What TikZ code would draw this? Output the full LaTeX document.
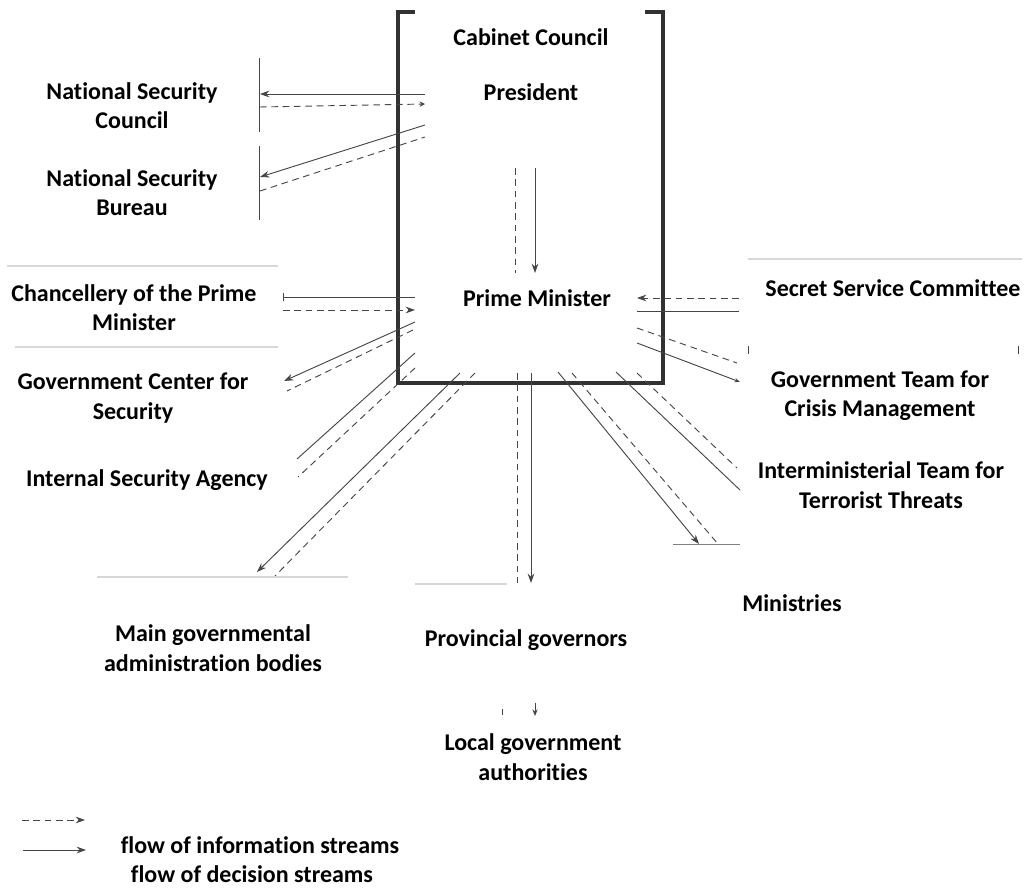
\documentclass[tikz,border=0pt]{standalone}
\usepackage{fontspec}
\setmainfont[Ligatures=NoCommon]{Carlito}
\usetikzlibrary{arrows.meta}
\definecolor{inkgray}{RGB}{70,70,70}
\definecolor{boxgray}{RGB}{50,50,50}
\definecolor{faintgray}{RGB}{215,215,215}

\begin{document}
\begin{tikzpicture}[x=0.75pt,y=-0.75pt,
  lbl/.style={align=center,font=\fontsize{18}{22}\selectfont\bfseries,inner sep=0pt},
  dec/.style={draw=inkgray,line width=.7pt},
  inf/.style={draw=inkgray,line width=.7pt,dash pattern=on 5pt off 3.5pt},
  tip/.style={-{Stealth[length=7pt,width=5pt]}},
  faint/.style={draw=faintgray,line width=.8pt}]
\useasboundingbox (0,0) rectangle (1025,888);

% the bracket round the top level
\draw[boxgray,line width=2.4pt] (415,12) -- (398,12) -- (398,383) -- (663,383) -- (663,12) -- (645,12);

% labels
\node[lbl] (cab) at (531,37) {Cabinet Council};
\node[lbl] (pres) at (531,92) {President};
\node[lbl] (pm) at (537,298) {Prime Minister};
\node[lbl] (nsc) at (132,106) {National Security\\Council};
\node[lbl] (nsb) at (132,193) {National Security\\Bureau};
\node[lbl] (chanc) at (134,308) {Chancellery of the Prime\\Minister};
\node[lbl] (gcs) at (133,398) {Government Center for\\Security};
\node[lbl] (isa) at (147,480) {Internal Security Agency};
\node[lbl] (main) at (213,648) {Main governmental\\administration bodies};
\node[lbl] (prov) at (526,640) {Provincial governors};
\node[lbl] (local) at (533,757) {Local government\\authorities};
\node[lbl] (mins) at (792,603) {Ministries};
\node[lbl] (ssc) at (893,288) {Secret Service Committee};
\node[lbl] (crisis) at (880,396) {Government Team for\\Crisis Management};
\node[lbl] (terror) at (881,485) {Interministerial Team for\\Terrorist Threats};
\node[lbl] (leg1) at (260,845) {flow of information streams};
\node[lbl] (leg2) at (252,874) {flow of decision streams};

% end points of the streams
\coordinate (nscS1) at (425,94);  \coordinate (nscS2) at (260,94);
\coordinate (nscI1) at (260,107); \coordinate (nscI2) at (425,104);
\coordinate (nscT) at (259,58);   \coordinate (nscB) at (259,132);
\coordinate (nsbS1) at (425,125); \coordinate (nsbS2) at (260,177);
\coordinate (nsbI1) at (260,191); \coordinate (nsbI2) at (425,137);
\coordinate (nsbT) at (259,146);  \coordinate (nsbB) at (259,220);
\coordinate (presI1) at (515,168); \coordinate (presI2) at (515,273);
\coordinate (presS1) at (535,168); \coordinate (presS2) at (535,273);
\coordinate (chS1) at (283,297);  \coordinate (chS2) at (415,297);
\coordinate (chI1) at (283,310);  \coordinate (chI2) at (415,310);
\coordinate (gcsS1) at (415,322); \coordinate (gcsS2) at (284,381);
\coordinate (gcsI1) at (413,330); \coordinate (gcsI2) at (287,391);
\coordinate (isaS1) at (415,353); \coordinate (isaS2) at (297,459);
\coordinate (isaI1) at (415,368); \coordinate (isaI2) at (298,477);
\coordinate (mainS1) at (460,373); \coordinate (mainS2) at (257,572);
\coordinate (mainI1) at (475,373); \coordinate (mainI2) at (275,576);
\coordinate (provI1) at (517,373); \coordinate (provI2) at (517,583);
\coordinate (provS1) at (531,373); \coordinate (provS2) at (531,583);
\coordinate (locI1) at (502,709); \coordinate (locI2) at (502,715);
\coordinate (locS1) at (535,703); \coordinate (locS2) at (535,716);
\coordinate (sscI1) at (739,298); \coordinate (sscI2) at (637,298);
\coordinate (sscS1) at (637,311); \coordinate (sscS2) at (739,311);
\coordinate (crI1) at (637,328);  \coordinate (crI2) at (737,363);
\coordinate (crS1) at (637,343);  \coordinate (crS2) at (740,382);
\coordinate (teS1) at (616,372);  \coordinate (teS2) at (740,490);
\coordinate (teI1) at (637,373);  \coordinate (teI2) at (737,468);
\coordinate (minS1) at (558,372); \coordinate (minS2) at (699,544);
\coordinate (minI1) at (572,373); \coordinate (minI2) at (718,544);

% left side
\draw[dec,tip] (nscS1) -- (nscS2);
\draw[inf,-{Stealth[length=4pt,width=4pt]}] (nscI1) -- (nscI2);
\draw[dec] (nscT) -- (nscB);
\draw[dec,tip] (nsbS1) -- (nsbS2);
\draw[inf] (nsbI1) -- (nsbI2);
\draw[dec] (nsbT) -- (nsbB);
\draw[inf] (presI1) -- (presI2);
\draw[dec,tip] (presS1) -- (presS2);
\draw[dec,{Bar[width=6pt]}-] (chS1) -- (chS2);
\draw[inf,tip] (chI1) -- (chI2);
\draw[dec,tip] (gcsS1) -- (gcsS2);
\draw[inf] (gcsI1) -- (gcsI2);
\draw[dec] (isaS1) -- (isaS2);
\draw[inf] (isaI1) -- (isaI2);
\draw[dec,tip] (mainS1) -- (mainS2);
\draw[inf] (mainI1) -- (mainI2);

% downwards
\draw[inf] (provI1) -- (provI2);
\draw[dec,tip] (provS1) -- (provS2);
\draw[dec] (locI1) -- (locI2);
\draw[dec,-{Stealth[length=5pt,width=4pt]}] (locS1) -- (locS2);

% right side
\draw[inf,tip] (sscI1) -- (sscI2);
\draw[dec] (sscS1) -- (sscS2);
\draw[inf] (crI1) -- (crI2);
\draw[dec,-{Stealth[length=4pt,width=3pt]}] (crS1) -- (crS2);
\draw[dec] (teS1) -- (teS2);
\draw[inf] (teI1) -- (teI2);
\draw[dec,tip] (minS1) -- (minS2);
\draw[inf] (minI1) -- (minI2);

% remains of the boxes
\draw[faint] (7,266) -- (278,266);
\draw[faint] (15,347) -- (278,347);
\draw[faint] (97,577) -- (348,577);
\draw[faint] (415,584) -- (507,584);
\draw[faint] (748,259) -- (1022,259);
\draw[dec] (748,346) -- (748,354);
\draw[dec] (1018,346) -- (1018,354);
\draw[dec,draw=gray] (673,544) -- (740,544);

% legend
\coordinate (legI1) at (22,820); \coordinate (legI2) at (85,820);
\coordinate (legS1) at (23,850); \coordinate (legS2) at (86,850);
\draw[inf,tip] (legI1) -- (legI2);
\draw[dec,tip] (legS1) -- (legS2);
\end{tikzpicture}
\end{document}
